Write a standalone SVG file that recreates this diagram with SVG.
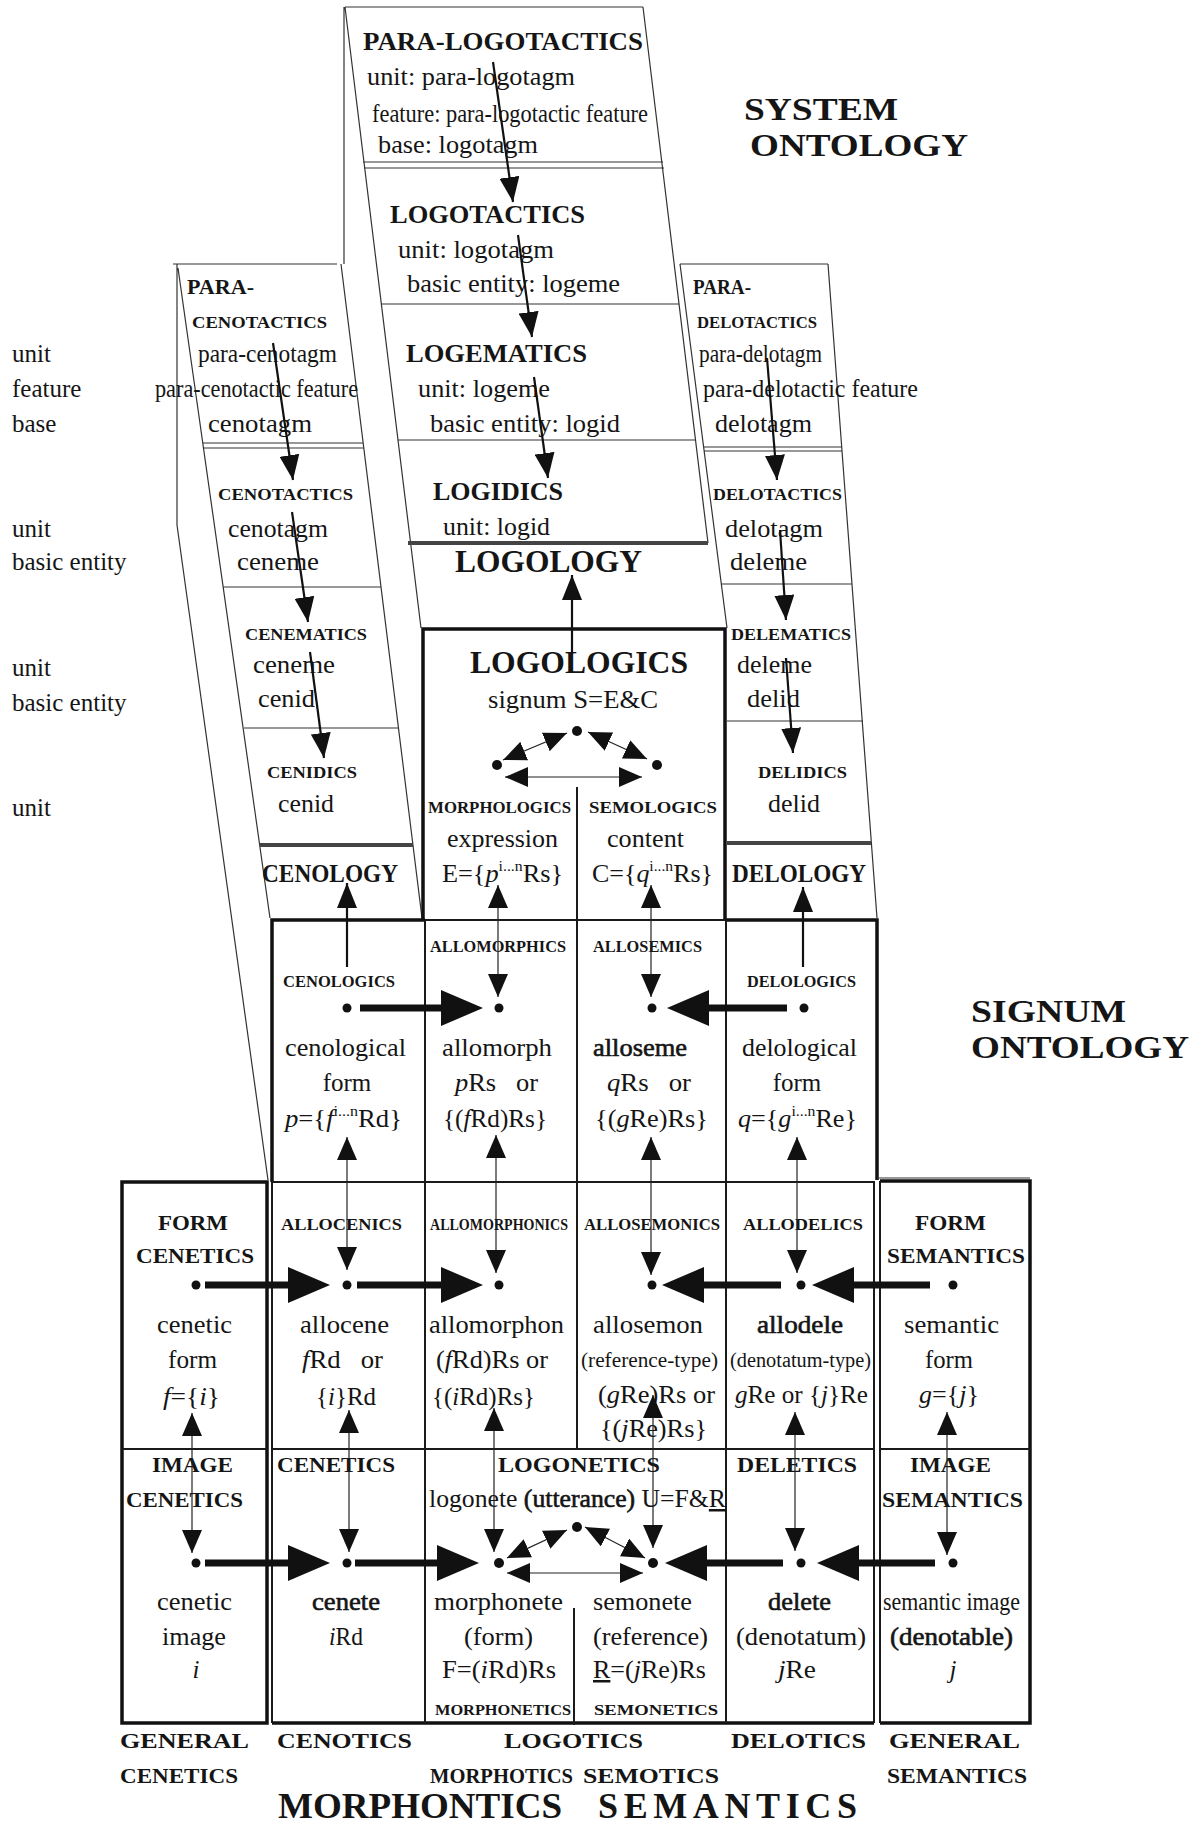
<svg xmlns="http://www.w3.org/2000/svg" width="1194" height="1825" viewBox="0 0 1194 1825">
<style>
text{font-family:'Liberation Serif','Times New Roman',serif;fill:#151515;font-size:25px}
.b{font-weight:bold}
.h{font-weight:bold;font-size:17px}
.hb{font-weight:bold;font-size:22px}
.big{font-weight:bold;font-size:36px}
.ttl{font-weight:bold;font-size:32px}
.s{font-size:20px}
.m{text-anchor:middle}
.semi{stroke:#151515;stroke-width:0.6}
.it{font-style:italic}
.thin{fill:none;stroke:#333;stroke-width:1.2}
.med{fill:none;stroke:#1a1a1a;stroke-width:2}
.thk{fill:none;stroke:#111;stroke-width:3.5}
.gray{fill:none;stroke:#444;stroke-width:4}
.dot{fill:#111}
.a2{fill:none;stroke:#111;stroke-width:2.2;marker-end:url(#mh)}
.a1{fill:none;stroke:#222;stroke-width:1.2;marker-start:url(#th);marker-end:url(#th)}
.a7{fill:none;stroke:#111;stroke-width:7;marker-end:url(#bh)}
</style>
<defs>
<marker id="mh" markerUnits="userSpaceOnUse" markerWidth="25" markerHeight="20" refX="25" refY="10" orient="auto"><path d="M0,0 L25,10 L0,20 z" fill="#111"/></marker>
<marker id="th" markerUnits="userSpaceOnUse" markerWidth="23" markerHeight="20" refX="23" refY="10" orient="auto-start-reverse"><path d="M0,0 L23,10 L0,20 z" fill="#111"/></marker>
<marker id="bh" markerUnits="userSpaceOnUse" markerWidth="42" markerHeight="36" refX="22" refY="18" orient="auto"><path d="M0,0 L42,18 L0,36 z" fill="#111"/></marker>
</defs>
<rect width="1194" height="1825" fill="#fff"/>

<g id="frame">
<path class="thin" d="M345,7 H643 M344,7 V264 M345,7 L421,628 M643,7 L708,543"/>
<path class="thin" d="M363,162 H663 M364,168 H664 M381,304 H679 M398,440 H696"/>
<path class="gray" d="M408,543 H708"/>
<path class="thin" d="M173,264 H337 M177,264 V525 L268,1180 M178,268 L270,918 M341,264 L422,918"/>
<path class="thin" d="M203,443 H363 M204,448 H364 M223,587 H381 M244,728 H398"/>
<path class="gray" d="M260,845 H413"/>
<path class="thin" d="M680,264 H828 M680,264 L727,628 M828,264 L877,918"/>
<path class="thin" d="M704,447 H842 M704,451 H842 M721,584 H852 M727,721 H863"/>
<path class="gray" d="M727,843 H871"/>
<path class="thk" d="M423,920 V629 H725 V920"/>
<path class="med" d="M577,787 V920"/>
<path class="thk" d="M272,1182 V920 H425 M726,920 H877 V1180"/>
<path class="med" d="M425,920 H726 M425,920 V1182 M577,920 V1182 M726,920 V1182"/>
<rect class="thk" x="122" y="1182" width="145" height="541"/>
<path class="med" d="M272,1182 H874 V1723 M272,1182 V1723"/>
<path class="thk" d="M272,1723 H874"/>
<path class="thin" d="M877,1178 H1030"/>
<path class="thk" d="M880,1181 H1030 V1723 H880"/>
<path class="med" d="M880,1181 V1723"/>
<path class="med" d="M122,1449 H267 M272,1449 H874 M880,1449 H1030"/>
<path class="med" d="M425,1182 V1723 M577,1182 V1449 M726,1182 V1723 M574,1608 V1725"/>
</g>

<g id="labels-left">
<text x="12" y="362">unit</text>
<text x="12" y="397">feature</text>
<text x="12" y="432">base</text>
<text x="12" y="537">unit</text>
<text x="12" y="570">basic entity</text>
<text x="12" y="676">unit</text>
<text x="12" y="711">basic entity</text>
<text x="12" y="816">unit</text>
</g>

<g id="title-system">
<text class="ttl" x="744" y="120" textLength="154" lengthAdjust="spacingAndGlyphs">SYSTEM</text>
<text class="ttl" x="750" y="156" textLength="218" lengthAdjust="spacingAndGlyphs">ONTOLOGY</text>
</g>
<g id="title-signum">
<text class="ttl" x="971" y="1022" textLength="155" lengthAdjust="spacingAndGlyphs">SIGNUM</text>
<text class="ttl" x="971" y="1058" textLength="218" lengthAdjust="spacingAndGlyphs">ONTOLOGY</text>
</g>

<g id="para-logotactics">
<text class="b" x="363" y="50" textLength="280" lengthAdjust="spacingAndGlyphs" style="font-size:26px">PARA-LOGOTACTICS</text>
<text x="367" y="85" textLength="208" lengthAdjust="spacingAndGlyphs">unit: para-logotagm</text>
<text x="372" y="122" textLength="276" lengthAdjust="spacingAndGlyphs">feature: para-logotactic feature</text>
<text x="378" y="153" textLength="160" lengthAdjust="spacingAndGlyphs">base: logotagm</text>
</g>
<g id="logotactics">
<text class="b" x="390" y="223" textLength="195" lengthAdjust="spacingAndGlyphs" style="font-size:26px">LOGOTACTICS</text>
<text x="398" y="258" textLength="156" lengthAdjust="spacingAndGlyphs">unit: logotagm</text>
<text x="407" y="292" textLength="213" lengthAdjust="spacingAndGlyphs">basic entity: logeme</text>
</g>
<g id="logematics">
<text class="b" x="406" y="362" textLength="181" lengthAdjust="spacingAndGlyphs" style="font-size:26px">LOGEMATICS</text>
<text x="418" y="397" textLength="132" lengthAdjust="spacingAndGlyphs">unit: logeme</text>
<text x="430" y="432" textLength="190" lengthAdjust="spacingAndGlyphs">basic entity: logid</text>
</g>
<g id="logidics">
<text class="b" x="433" y="500" textLength="130" lengthAdjust="spacingAndGlyphs" style="font-size:26px">LOGIDICS</text>
<text x="443" y="535" textLength="107" lengthAdjust="spacingAndGlyphs">unit: logid</text>
</g>
<g id="logology">
<text class="b" x="455" y="572" textLength="187" lengthAdjust="spacingAndGlyphs" style="font-size:32px">LOGOLOGY</text>
</g>

<g id="para-cenotactics">
<text class="b" x="187" y="294" textLength="67" lengthAdjust="spacingAndGlyphs" style="font-size:21px">PARA-</text>
<text class="h" x="192" y="328" textLength="135" lengthAdjust="spacingAndGlyphs">CENOTACTICS</text>
<text x="198" y="362" textLength="139" lengthAdjust="spacingAndGlyphs">para-cenotagm</text>
<text x="155" y="397" textLength="203" lengthAdjust="spacingAndGlyphs">para-cenotactic feature</text>
<text x="208" y="432" textLength="104" lengthAdjust="spacingAndGlyphs">cenotagm</text>
</g>
<g id="cenotactics">
<text class="h" x="218" y="500" textLength="135" lengthAdjust="spacingAndGlyphs">CENOTACTICS</text>
<text x="228" y="537" textLength="100" lengthAdjust="spacingAndGlyphs">cenotagm</text>
<text x="237" y="570" textLength="82" lengthAdjust="spacingAndGlyphs">ceneme</text>
</g>
<g id="cenematics">
<text class="h" x="245" y="640" textLength="122" lengthAdjust="spacingAndGlyphs">CENEMATICS</text>
<text x="253" y="673" textLength="82" lengthAdjust="spacingAndGlyphs">ceneme</text>
<text x="258" y="707" textLength="57" lengthAdjust="spacingAndGlyphs">cenid</text>
</g>
<g id="cenidics">
<text class="h" x="267" y="778" textLength="90" lengthAdjust="spacingAndGlyphs">CENIDICS</text>
<text x="278" y="812" textLength="56" lengthAdjust="spacingAndGlyphs">cenid</text>
</g>
<g id="cenology">
<text class="b" x="262" y="882" textLength="136" lengthAdjust="spacingAndGlyphs" style="font-size:26px">CENOLOGY</text>
</g>

<g id="para-delotactics">
<text class="b" x="693" y="294" textLength="58" lengthAdjust="spacingAndGlyphs" style="font-size:21px">PARA-</text>
<text class="h" x="697" y="328" textLength="120" lengthAdjust="spacingAndGlyphs">DELOTACTICS</text>
<text x="699" y="362" textLength="123" lengthAdjust="spacingAndGlyphs">para-delotagm</text>
<text x="703" y="397" textLength="215" lengthAdjust="spacingAndGlyphs">para-delotactic feature</text>
<text x="715" y="432" textLength="97" lengthAdjust="spacingAndGlyphs">delotagm</text>
</g>
<g id="delotactics">
<text class="h" x="713" y="500" textLength="129" lengthAdjust="spacingAndGlyphs">DELOTACTICS</text>
<text x="725" y="537" textLength="98" lengthAdjust="spacingAndGlyphs">delotagm</text>
<text x="730" y="570" textLength="77" lengthAdjust="spacingAndGlyphs">deleme</text>
</g>
<g id="delematics">
<text class="h" x="731" y="640" textLength="120" lengthAdjust="spacingAndGlyphs">DELEMATICS</text>
<text x="737" y="673" textLength="75" lengthAdjust="spacingAndGlyphs">deleme</text>
<text x="747" y="707" textLength="53" lengthAdjust="spacingAndGlyphs">delid</text>
</g>
<g id="delidics">
<text class="h" x="758" y="778" textLength="89" lengthAdjust="spacingAndGlyphs">DELIDICS</text>
<text x="768" y="812" textLength="52" lengthAdjust="spacingAndGlyphs">delid</text>
</g>
<g id="delology">
<text class="b" x="732" y="882" textLength="134" lengthAdjust="spacingAndGlyphs" style="font-size:26px">DELOLOGY</text>
</g>

<g id="logologics">
<text class="b" x="470" y="673" textLength="218" lengthAdjust="spacingAndGlyphs" style="font-size:31px">LOGOLOGICS</text>
<text x="488" y="708" textLength="170" lengthAdjust="spacingAndGlyphs">signum S=E&amp;C</text>
<circle class="dot" cx="577" cy="731" r="5"/>
<circle class="dot" cx="497" cy="765" r="5"/>
<circle class="dot" cx="657" cy="765" r="5"/>
</g>
<g id="morphologics">
<text class="h" x="428" y="813" textLength="143" lengthAdjust="spacingAndGlyphs">MORPHOLOGICS</text>
<text x="447" y="847" textLength="111" lengthAdjust="spacingAndGlyphs">expression</text>
<text x="442" y="882" textLength="121" lengthAdjust="spacingAndGlyphs">E={<tspan class="it">p</tspan><tspan font-size="15" dy="-11">i...n</tspan><tspan dy="11">Rs}</tspan></text>
</g>
<g id="semologics">
<text class="h" x="589" y="813" textLength="128" lengthAdjust="spacingAndGlyphs">SEMOLOGICS</text>
<text x="607" y="847" textLength="77" lengthAdjust="spacingAndGlyphs">content</text>
<text x="592" y="882" textLength="121" lengthAdjust="spacingAndGlyphs">C={<tspan class="it">q</tspan><tspan font-size="15" dy="-11">i...n</tspan><tspan dy="11">Rs}</tspan></text>
</g>

<g id="cenologics">
<text class="h" x="283" y="987" textLength="112" lengthAdjust="spacingAndGlyphs">CENOLOGICS</text>
<circle class="dot" cx="347" cy="1008" r="4.5"/>
<text x="285" y="1056" textLength="121" lengthAdjust="spacingAndGlyphs">cenological</text>
<text class="m" x="347" y="1091">form</text>
<text x="285" y="1127" textLength="117" lengthAdjust="spacingAndGlyphs"><tspan class="it">p</tspan>={<tspan class="it">f</tspan><tspan font-size="15" dy="-11">i...n</tspan><tspan dy="11">Rd}</tspan></text>
</g>
<g id="allomorphics">
<text class="h" x="430" y="952" textLength="136" lengthAdjust="spacingAndGlyphs">ALLOMORPHICS</text>
<circle class="dot" cx="499" cy="1008" r="4.5"/>
<text x="442" y="1056" textLength="110" lengthAdjust="spacingAndGlyphs">allomorph</text>
<text x="455" y="1091" textLength="83" lengthAdjust="spacingAndGlyphs" xml:space="preserve"><tspan class="it">p</tspan>Rs   or</text>
<text x="443" y="1127" textLength="104" lengthAdjust="spacingAndGlyphs">{(<tspan class="it">f</tspan>Rd)Rs}</text>
</g>
<g id="allosemics">
<text class="h" x="593" y="952" textLength="109" lengthAdjust="spacingAndGlyphs">ALLOSEMICS</text>
<circle class="dot" cx="652" cy="1008" r="4.5"/>
<text class="semi" x="593" y="1056" textLength="94" lengthAdjust="spacingAndGlyphs">alloseme</text>
<text x="607" y="1091" textLength="84" lengthAdjust="spacingAndGlyphs" xml:space="preserve"><tspan class="it">q</tspan>Rs   or</text>
<text x="595" y="1127" textLength="113" lengthAdjust="spacingAndGlyphs">{(<tspan class="it">g</tspan>Re)Rs}</text>
</g>
<g id="delologics">
<text class="h" x="747" y="987" textLength="109" lengthAdjust="spacingAndGlyphs">DELOLOGICS</text>
<circle class="dot" cx="804" cy="1008" r="4.5"/>
<text x="742" y="1056" textLength="115" lengthAdjust="spacingAndGlyphs">delological</text>
<text class="m" x="797" y="1091">form</text>
<text x="738" y="1127" textLength="119" lengthAdjust="spacingAndGlyphs"><tspan class="it">q</tspan>={<tspan class="it">g</tspan><tspan font-size="15" dy="-11">i...n</tspan><tspan dy="11">Re}</tspan></text>
</g>

<g id="form-cenetics">
<text class="hb" x="158" y="1230" textLength="70" lengthAdjust="spacingAndGlyphs">FORM</text>
<text class="hb" x="136" y="1263" textLength="118" lengthAdjust="spacingAndGlyphs">CENETICS</text>
<circle class="dot" cx="196" cy="1285" r="4.5"/>
<text x="157" y="1333" textLength="75" lengthAdjust="spacingAndGlyphs">cenetic</text>
<text x="168" y="1368" textLength="49" lengthAdjust="spacingAndGlyphs">form</text>
<text x="163" y="1405" textLength="57" lengthAdjust="spacingAndGlyphs"><tspan class="it">f</tspan>={<tspan class="it">i</tspan>}</text>
</g>
<g id="allocenics">
<text class="h" x="281" y="1230" textLength="121" lengthAdjust="spacingAndGlyphs">ALLOCENICS</text>
<circle class="dot" cx="347" cy="1285" r="4.5"/>
<text x="300" y="1333" textLength="89" lengthAdjust="spacingAndGlyphs">allocene</text>
<text x="302" y="1368" textLength="81" lengthAdjust="spacingAndGlyphs" xml:space="preserve"><tspan class="it">f</tspan>Rd   or</text>
<text x="316" y="1405" textLength="60" lengthAdjust="spacingAndGlyphs">{<tspan class="it">i</tspan>}Rd</text>
</g>
<g id="allomorphonics">
<text class="h" x="430" y="1230" textLength="138" lengthAdjust="spacingAndGlyphs">ALLOMORPHONICS</text>
<circle class="dot" cx="499" cy="1285" r="4.5"/>
<text x="429" y="1333" textLength="135" lengthAdjust="spacingAndGlyphs">allomorphon</text>
<text x="436" y="1368" textLength="112" lengthAdjust="spacingAndGlyphs">(<tspan class="it">f</tspan>Rd)Rs or</text>
<text x="432" y="1405" textLength="103" lengthAdjust="spacingAndGlyphs">{(<tspan class="it">i</tspan>Rd)Rs}</text>
</g>
<g id="allosemonics">
<text class="h" x="584" y="1230" textLength="136" lengthAdjust="spacingAndGlyphs">ALLOSEMONICS</text>
<circle class="dot" cx="652" cy="1285" r="4.5"/>
<text x="593" y="1333" textLength="110" lengthAdjust="spacingAndGlyphs">allosemon</text>
<text class="s" x="581" y="1367" textLength="137" lengthAdjust="spacingAndGlyphs">(reference-type)</text>
<text x="598" y="1403" textLength="117" lengthAdjust="spacingAndGlyphs">(<tspan class="it">g</tspan>Re)Rs or</text>
<text x="600" y="1437" textLength="107" lengthAdjust="spacingAndGlyphs">{(<tspan class="it">j</tspan>Re)Rs}</text>
</g>
<g id="allodelics">
<text class="h" x="743" y="1230" textLength="120" lengthAdjust="spacingAndGlyphs">ALLODELICS</text>
<circle class="dot" cx="801" cy="1285" r="4.5"/>
<text class="semi" x="757" y="1333" textLength="86" lengthAdjust="spacingAndGlyphs">allodele</text>
<text class="s" x="730" y="1367" textLength="141" lengthAdjust="spacingAndGlyphs">(denotatum-type)</text>
<text x="735" y="1403" textLength="133" lengthAdjust="spacingAndGlyphs"><tspan class="it">g</tspan>Re or {<tspan class="it">j</tspan>}Re</text>
</g>
<g id="form-semantics">
<text class="hb" x="915" y="1230" textLength="71" lengthAdjust="spacingAndGlyphs">FORM</text>
<text class="hb" x="887" y="1263" textLength="138" lengthAdjust="spacingAndGlyphs">SEMANTICS</text>
<circle class="dot" cx="953" cy="1285" r="4.5"/>
<text x="904" y="1333" textLength="95" lengthAdjust="spacingAndGlyphs">semantic</text>
<text x="925" y="1368" textLength="48" lengthAdjust="spacingAndGlyphs">form</text>
<text x="919" y="1403" textLength="60" lengthAdjust="spacingAndGlyphs"><tspan class="it">g</tspan>={<tspan class="it">j</tspan>}</text>
</g>

<g id="image-cenetics">
<text class="hb" x="152" y="1472" textLength="81" lengthAdjust="spacingAndGlyphs">IMAGE</text>
<text class="hb" x="126" y="1507" textLength="117" lengthAdjust="spacingAndGlyphs">CENETICS</text>
<circle class="dot" cx="196" cy="1563" r="4.5"/>
<text x="157" y="1610" textLength="75" lengthAdjust="spacingAndGlyphs">cenetic</text>
<text x="162" y="1645" textLength="64" lengthAdjust="spacingAndGlyphs">image</text>
<text class="it m" x="196" y="1678">i</text>
</g>
<g id="cenetics">
<text class="hb" x="277" y="1472" textLength="118" lengthAdjust="spacingAndGlyphs">CENETICS</text>
<circle class="dot" cx="347" cy="1563" r="4.5"/>
<text class="semi" x="312" y="1610" textLength="68" lengthAdjust="spacingAndGlyphs">cenete</text>
<text x="329" y="1645" textLength="34" lengthAdjust="spacingAndGlyphs"><tspan class="it">i</tspan>Rd</text>
</g>
<g id="logonetics">
<text class="hb" x="498" y="1472" textLength="162" lengthAdjust="spacingAndGlyphs">LOGONETICS</text>
<text x="429" y="1507" textLength="297" lengthAdjust="spacingAndGlyphs">logonete <tspan class="semi">(utterance)</tspan> U=F&amp;<tspan style="text-decoration:underline">R</tspan></text>
<circle class="dot" cx="577" cy="1527" r="5"/>
</g>
<g id="morphonetics">
<circle class="dot" cx="499" cy="1563" r="5"/>
<text x="434" y="1610" textLength="129" lengthAdjust="spacingAndGlyphs">morphonete</text>
<text x="464" y="1645" textLength="69" lengthAdjust="spacingAndGlyphs">(form)</text>
<text x="442" y="1678" textLength="114" lengthAdjust="spacingAndGlyphs">F=(<tspan class="it">i</tspan>Rd)Rs</text>
<text class="h" x="435" y="1715" textLength="136" lengthAdjust="spacingAndGlyphs" style="font-size:15px">MORPHONETICS</text>
</g>
<g id="semonetics">
<circle class="dot" cx="653" cy="1563" r="5"/>
<text x="593" y="1610" textLength="99" lengthAdjust="spacingAndGlyphs">semonete</text>
<text x="593" y="1645" textLength="115" lengthAdjust="spacingAndGlyphs">(reference)</text>
<text x="593" y="1678" textLength="113" lengthAdjust="spacingAndGlyphs"><tspan style="text-decoration:underline">R</tspan>=(<tspan class="it">j</tspan>Re)Rs</text>
<text class="h" x="594" y="1715" textLength="124" lengthAdjust="spacingAndGlyphs" style="font-size:15px">SEMONETICS</text>
</g>
<g id="deletics">
<text class="hb" x="737" y="1472" textLength="120" lengthAdjust="spacingAndGlyphs">DELETICS</text>
<circle class="dot" cx="801" cy="1563" r="4.5"/>
<text class="semi" x="768" y="1610" textLength="63" lengthAdjust="spacingAndGlyphs">delete</text>
<text x="736" y="1645" textLength="130" lengthAdjust="spacingAndGlyphs">(denotatum)</text>
<text x="778" y="1678" textLength="38" lengthAdjust="spacingAndGlyphs"><tspan class="it">j</tspan>Re</text>
</g>
<g id="image-semantics">
<text class="hb" x="910" y="1472" textLength="81" lengthAdjust="spacingAndGlyphs">IMAGE</text>
<text class="hb" x="882" y="1507" textLength="141" lengthAdjust="spacingAndGlyphs">SEMANTICS</text>
<circle class="dot" cx="953" cy="1563" r="4.5"/>
<text x="883" y="1610" textLength="137" lengthAdjust="spacingAndGlyphs">semantic image</text>
<text class="semi" x="890" y="1645" textLength="123" lengthAdjust="spacingAndGlyphs">(denotable)</text>
<text class="it m" x="953" y="1678">j</text>
</g>

<g id="labels-bottom">
<text class="hb" x="120" y="1748" textLength="129" lengthAdjust="spacingAndGlyphs">GENERAL</text>
<text class="hb" x="120" y="1783" textLength="118" lengthAdjust="spacingAndGlyphs">CENETICS</text>
<text class="hb" x="277" y="1748" textLength="135" lengthAdjust="spacingAndGlyphs">CENOTICS</text>
<text class="hb" x="504" y="1748" textLength="139" lengthAdjust="spacingAndGlyphs">LOGOTICS</text>
<text class="hb" x="731" y="1748" textLength="135" lengthAdjust="spacingAndGlyphs">DELOTICS</text>
<text class="hb" x="889" y="1748" textLength="131" lengthAdjust="spacingAndGlyphs">GENERAL</text>
<text class="hb" x="887" y="1783" textLength="140" lengthAdjust="spacingAndGlyphs">SEMANTICS</text>
<text class="hb" x="430" y="1783" textLength="143" lengthAdjust="spacingAndGlyphs">MORPHOTICS</text>
<text class="hb" x="583" y="1783" textLength="136" lengthAdjust="spacingAndGlyphs">SEMOTICS</text>
<text class="big" x="278" y="1818" textLength="284" lengthAdjust="spacingAndGlyphs">MORPHONTICS</text>
<text class="big" x="598" y="1818" textLength="259" lengthAdjust="spacing">SEMANTICS</text>
</g>

<g id="connectors">
<path class="a2" d="M493,62 L513,202"/>
<path class="a2" d="M518,235 L532,337"/>
<path class="a2" d="M534,377 L548,478"/>
<path class="a2" d="M273,343 L293,480"/>
<path class="a2" d="M292,512 L308,622"/>
<path class="a2" d="M310,652 L324,758"/>
<path class="a2" d="M767,358 L777,480"/>
<path class="a2" d="M780,530 L786,620"/>
<path class="a2" d="M786,658 L793,753"/>
<path class="a2" d="M572,653 V575"/>
<path class="a2" d="M347,967 V883"/>
<path class="a2" d="M803,967 V887"/>
<path class="a1" d="M503,760 L567,733"/>
<path class="a1" d="M588,732 L647,759"/>
<path class="a1" d="M505,777 H642"/>
<path class="a1" d="M498,885 V997"/>
<path class="a1" d="M651,885 V997"/>
<path class="a1" d="M347,1137 V1270"/>
<path class="a1" d="M496,1135 V1273"/>
<path class="a1" d="M651,1137 V1275"/>
<path class="a1" d="M797,1137 V1273"/>
<path class="a1" d="M192,1413 V1553"/>
<path class="a1" d="M349,1410 V1552"/>
<path class="a1" d="M494,1408 V1552"/>
<path class="a1" d="M653,1395 V1548"/>
<path class="a1" d="M795,1412 V1551"/>
<path class="a1" d="M947,1412 V1555"/>
<path class="a1" d="M507,1558 L567,1530"/>
<path class="a1" d="M585,1527 L645,1558"/>
<path class="a1" d="M507,1573 H643"/>
<path class="a7" d="M360,1008 H463"/>
<path class="a7" d="M787,1008 H687"/>
<path class="a7" d="M205,1285 H310"/>
<path class="a7" d="M357,1285 H463"/>
<path class="a7" d="M781,1285 H682"/>
<path class="a7" d="M930,1285 H832"/>
<path class="a7" d="M205,1563 H310"/>
<path class="a7" d="M355,1563 H459"/>
<path class="a7" d="M783,1563 H685"/>
<path class="a7" d="M935,1563 H837"/>
</g>
</svg>
